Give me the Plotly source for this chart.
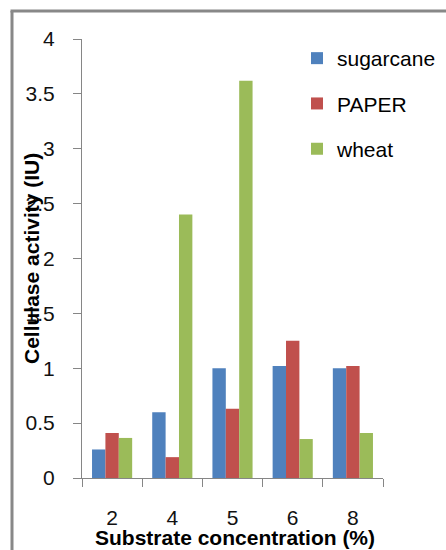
import plotly.graph_objects as go

# Substrate concentration categories (%)
concentrations = ["2", "4", "5", "6", "8"]

# Cellulase activity (IU) per substrate
sugarcane = [0.26, 0.60, 1.00, 1.02, 1.00]
paper = [0.41, 0.19, 0.63, 1.25, 1.02]
wheat = [0.365, 2.40, 3.62, 0.355, 0.41]

series_names = ["sugarcane", "PAPER", "wheat"]
series_colors = ["#4F81BD", "#C0504D", "#9BBB59"]

W, H = 446, 550
ML, MR, MT, MB = 82, 63, 39, 72
PW, PH = W - ML - MR, H - MT - MB


def px_x(px):
    return (px - ML) / PW


def px_y(py):
    return (H - MB - py) / PH


fig = go.Figure()
for i, (name, vals, col) in enumerate(zip(series_names, [sugarcane, paper, wheat], series_colors)):
    fig.add_trace(go.Bar(
        x=concentrations, y=vals, name=name,
        marker=dict(color=col, line=dict(width=0)),
        legendgroup=f"g{i}",
    ))

axis_col = "#868686"
tick_font = dict(family="Liberation Sans", size=21, color="#111111")
title_font = dict(family="Liberation Sans", size=21, color="#000000")

fig.update_layout(
    width=W, height=H,
    margin=dict(l=ML, r=MR, t=MT, b=MB, autoexpand=False),
    paper_bgcolor="white", plot_bgcolor="white",
    barmode="group", bargap=1/3, bargroupgap=0,
    showlegend=True,
    legend=dict(
        x=px_x(297), y=px_y(38), xanchor="left", yanchor="top",
        traceorder="grouped", tracegroupgap=15,
        font=dict(family="Liberation Sans", size=21, color="#000000"),
        bgcolor="rgba(0,0,0,0)",
    ),
    xaxis=dict(
        type="category", showgrid=False, zeroline=False,
        showline=True, linecolor=axis_col, linewidth=1,
        ticks="outside", tickson="boundaries", ticklen=8, tickcolor=axis_col,
        tickfont=tick_font, ticklabelstandoff=21, automargin=False,
    ),
    yaxis=dict(
        range=[0, 4], dtick=0.5, showgrid=False, zeroline=False,
        showline=True, linecolor=axis_col, linewidth=1,
        ticks="outside", ticklen=8, tickcolor=axis_col,
        tickfont=tick_font, ticklabelstandoff=14, automargin=False,
    ),
    annotations=[
        dict(text="<b>Cellulase activity (IU)</b>", textangle=-90,
             xref="paper", yref="paper", x=px_x(31), y=px_y(259),
             xanchor="center", yanchor="middle", showarrow=False, font=title_font),
        dict(text="<b>Substrate concentration (%)</b>",
             xref="paper", yref="paper", x=px_x(235), y=px_y(537),
             xanchor="center", yanchor="middle", showarrow=False, font=title_font),
    ],
    shapes=[
        dict(type="line", xref="paper", yref="paper",
             x0=px_x(12), y0=px_y(H + 5), x1=px_x(12), y1=px_y(11),
             line=dict(color="#888888", width=3)),
        dict(type="line", xref="paper", yref="paper",
             x0=px_x(10.5), y0=px_y(11), x1=px_x(W + 5), y1=px_y(11),
             line=dict(color="#888888", width=3)),
    ],
)

fig.write_html("out.html")
